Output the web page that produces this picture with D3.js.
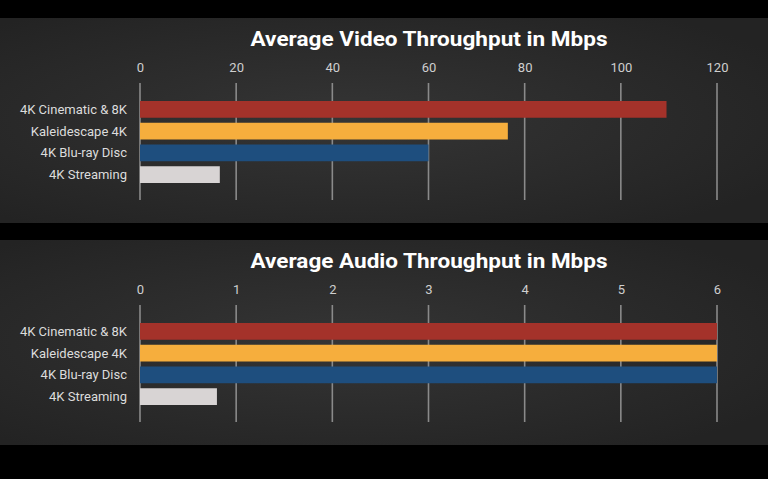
<!DOCTYPE html>
<html><head><meta charset="utf-8">
<script src="https://cdn.jsdelivr.net/npm/d3@7"></script>
<style>html,body{margin:0;padding:0;background:#000;}svg{display:block;}</style>
</head><body>
<svg id="c" width="768" height="479"></svg>
<script>
const categories = ["4K Cinematic & 8K", "Kaleidescape 4K", "4K Blu-ray Disc", "4K Streaming"];
const videoValues = [109.5, 76.5, 60, 16.6];
const audioValues = [6, 6, 6, 0.8];
const videoTicks = [0, 20, 40, 60, 80, 100, 120];
const audioTicks = [0, 1, 2, 3, 4, 5, 6];
const colors = ["#a4322a", "#f6ae3d", "#1e4e7e", "#d8d4d4"];
const titles = ["Average Video Throughput in Mbps", "Average Audio Throughput in Mbps"];

const svg = d3.select("#c");
const defs = svg.append("defs");
const g = defs.append("radialGradient").attr("id","bg").attr("cx","45%").attr("cy","50%").attr("r","65%");
g.append("stop").attr("offset","0%").attr("stop-color","#353535");
g.append("stop").attr("offset","100%").attr("stop-color","#232323");

function panel(top, values, ticks, title) {
  const pg = svg.append("g").attr("transform", `translate(0,${top})`);
  pg.append("rect").attr("x",0).attr("y",0).attr("width",768).attr("height",205).attr("fill","url(#bg)");
  pg.append("text").attr("x",429).attr("y",21).attr("text-anchor","middle")
    .attr("dominant-baseline","central")
    .attr("font-family","Roboto, 'Liberation Sans', sans-serif").attr("font-weight","bold")
    .attr("font-size",21).attr("fill","#fff")
    .attr("textLength",357).attr("lengthAdjust","spacingAndGlyphs")
    .text(title);
  const x = d3.scaleLinear().domain([0, ticks[ticks.length-1]]).range([140, 717]);
  const y = d3.scaleBand().domain(categories).range([83, 165]).paddingInner(0.23).paddingOuter(0);
  // gridlines
  pg.append("g").selectAll("line").data(ticks).join("line")
    .attr("x1", d=>x(d)).attr("x2", d=>x(d)).attr("y1", 65).attr("y2", 182)
    .attr("stroke","#8a8a8a").attr("stroke-width",1.6);
  // tick labels
  const axis = d3.axisTop(x).tickValues(ticks).tickSize(0).tickPadding(0).tickFormat(d3.format("d"));
  const ag = pg.append("g").attr("transform","translate(0,54)").call(axis);
  ag.select(".domain").remove();
  ag.selectAll("text").attr("font-family","Roboto, 'Liberation Sans', sans-serif")
    .attr("font-size",13).attr("fill","#cfcfcf");
  // bars
  pg.append("g").selectAll("rect").data(values).join("rect")
    .attr("x", x(0)).attr("y", (d,i)=>y(categories[i]))
    .attr("width", d=>x(d)-x(0)).attr("height", y.bandwidth())
    .attr("fill", (d,i)=>colors[i]);
  // category labels
  pg.append("g").selectAll("text").data(categories).join("text")
    .attr("x", 127).attr("y", d=>y(d)+y.bandwidth()/2)
    .attr("text-anchor","end").attr("dominant-baseline","central")
    .attr("font-family","Roboto, 'Liberation Sans', sans-serif")
    .attr("font-size",13).attr("fill","#dcdcdc").text(d=>d);
}
panel(18, videoValues, videoTicks, titles[0]);
panel(240, audioValues, audioTicks, titles[1]);
</script>
</body></html>
